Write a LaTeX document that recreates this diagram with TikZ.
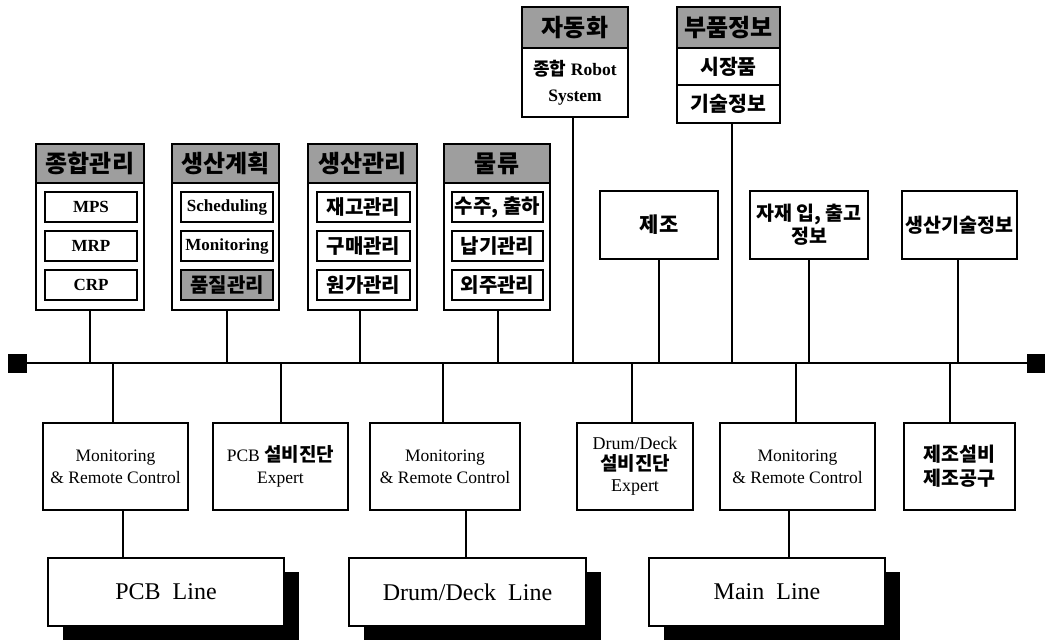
\documentclass[tikz,border=0pt]{standalone}
\usepackage{fontspec}
\setmainfont{Liberation Serif}
\newfontfamily\kr{Noto Sans CJK KR}
\newcommand\K[1]{{\kr\bfseries\fontsize{19}{21}\selectfont #1}}
\usetikzlibrary{shadows}
\begin{document}
\begin{tikzpicture}[x=1pt,y=-1pt,
  every node/.style={inner sep=0pt, outer sep=0pt, align=center},
  bx/.style={draw, line width=1.8pt, fill=white},
  hdr/.style={draw, line width=1.8pt, fill=black!38, font=\fontsize{24}{26}\selectfont\kr\bfseries},
  ibx/.style={draw, line width=1.6pt, fill=white, font=\fontsize{17}{19}\selectfont\bfseries},
  ikr/.style={ibx, font=\fontsize{20}{22}\selectfont\kr\bfseries},
  rbx/.style={bx, minimum height=68pt, font=\fontsize{19.5}{23}\selectfont\kr\bfseries},
  lbx/.style={bx, minimum height=87pt, font=\fontsize{17.5}{22}\selectfont},
  linebx/.style={bx, minimum width=236pt, minimum height=68pt, font=\fontsize{24}{26}\selectfont,
     drop shadow={shadow xshift=15pt, shadow yshift=-14pt, fill=black, opacity=1}},
  con/.style={line width=1.8pt},
  sq/.style={fill=black, minimum width=19pt, minimum height=19pt}
]
\useasboundingbox (0,0) rectangle (1045,642);

% bus
\node[sq] (lsq) at (17.5,363) {};
\node[sq] (rsq) at (1036,363) {};
\draw[con] (lsq.east) -- (rsq.west);
\coordinate (bus) at (0,363);

% group 1
\node[bx, minimum width=108pt, minimum height=127pt] (g1) at (90,246.5) {};
\node[hdr, minimum width=108pt, minimum height=39pt] (h1) at (90,163.5) {종합관리};
\node[ibx, minimum width=92pt, minimum height=30pt] (mps) at (91,207) {MPS};
\node[ibx, minimum width=92pt, minimum height=30pt] (mrp) at (91,246) {MRP};
\node[ibx, minimum width=92pt, minimum height=30pt] (crp) at (91,285) {CRP};

% group 2
\node[bx, minimum width=107pt, minimum height=127pt] (g2) at (225.5,246.5) {};
\node[hdr, minimum width=107pt, minimum height=39pt] (h2) at (225.5,163.5) {생산계획};
\node[ibx, minimum width=92pt, minimum height=30pt] (sch) at (227,207) {Scheduling};
\node[ibx, minimum width=92pt, minimum height=30pt] (mon) at (227,246) {Monitoring};
\node[ikr, fill=black!38, minimum width=92pt, minimum height=30pt] (qm) at (227,285) {품질관리};

% group 3
\node[bx, minimum width=109pt, minimum height=127pt] (g3) at (362.5,246.5) {};
\node[hdr, minimum width=109pt, minimum height=39pt] (h3) at (362.5,163.5) {생산관리};
\node[ikr, minimum width=93pt, minimum height=30pt] (inv) at (363.5,207) {재고관리};
\node[ikr, minimum width=93pt, minimum height=30pt] (pur) at (363.5,246) {구매관리};
\node[ikr, minimum width=93pt, minimum height=30pt] (cost) at (363.5,285) {원가관리};

% group 4
\node[bx, minimum width=106pt, minimum height=127pt] (g4) at (497,246.5) {};
\node[hdr, minimum width=106pt, minimum height=39pt] (h4) at (497,163.5) {물류};
\node[ikr, minimum width=91pt, minimum height=30pt] (ord) at (497.5,207) {수주, 출하};
\node[ikr, minimum width=91pt, minimum height=30pt] (due) at (497.5,246) {납기관리};
\node[ikr, minimum width=91pt, minimum height=30pt] (out) at (497.5,285) {외주관리};

% automation
\node[bx, minimum width=106pt, minimum height=69pt, font=\fontsize{17.5}{26}\selectfont\bfseries] (g5) at (575,82.5) {{\kr\fontsize{18}{21}\selectfont 종합} Robot\\System};
\node[hdr, minimum width=106pt, minimum height=41pt] (h5) at (575,27.5) {자동화};

% parts info
\node[hdr, minimum width=103pt, minimum height=41pt] (h6) at (728.5,27.5) {부품정보};
\node[bx, minimum width=103pt, minimum height=37pt, font=\fontsize{20.5}{22}\selectfont\kr\bfseries] (mkt) at (728.5,66.5) {시장품};
\node[bx, minimum width=103pt, minimum height=38pt, font=\fontsize{20.5}{22}\selectfont\kr\bfseries] (tech) at (728.5,104) {기술정보};

% right boxes
\node[rbx, minimum width=118pt, font=\fontsize{21}{23}\selectfont\kr\bfseries] (mfg) at (659,225) {제조};
\node[rbx, minimum width=118pt] (mat) at (809,225) {자재 입, 출고\\정보};
\node[rbx, minimum width=115pt] (ptech) at (959.5,225) {생산기술정보};

% lower boxes
\node[lbx, minimum width=145pt] (b1) at (115.5,466.5) {Monitoring\\\& Remote Control};
\node[lbx, minimum width=135pt] (b2) at (280.5,466.5) {PCB \K{설비진단}\\Expert};
\node[lbx, minimum width=150pt] (b3) at (445,466.5) {Monitoring\\\& Remote Control};
\node[lbx, minimum width=116pt, font=\fontsize{18}{21}\selectfont] (b4) at (635,466.5) {Drum/Deck\\\K{설비진단}\\Expert};
\node[lbx, minimum width=155pt] (b5) at (797.5,466.5) {Monitoring\\\& Remote Control};
\node[lbx, minimum width=111pt, font=\fontsize{19.5}{24}\selectfont\kr\bfseries] (b6) at (959.5,466.5) {제조설비\\제조공구};

% lines
\node[linebx] (l1) at (166,592) {PCB\ \ Line};
\node[linebx, minimum width=237pt] (l2) at (467.5,592) {Drum/Deck\ \ Line};
\node[linebx] (l3) at (767,592) {Main\ \ Line};

% connectors to bus (top)
\draw[con] (g1.south) -- (g1.south |- bus);
\draw[con] ([xshift=1.5pt]g2.south) -- ([xshift=1.5pt]g2.south |- bus);
\draw[con] ([xshift=-2.5pt]g3.south) -- ([xshift=-2.5pt]g3.south |- bus);
\draw[con] ([xshift=1pt]g4.south) -- ([xshift=1pt]g4.south |- bus);
\draw[con] ([xshift=-2pt]g5.south) -- ([xshift=-2pt]g5.south |- bus);
\draw[con] ([xshift=3.5pt]tech.south) -- ([xshift=3.5pt]tech.south |- bus);
\draw[con] (mfg.south) -- (mfg.south |- bus);
\draw[con] (mat.south) -- (mat.south |- bus);
\draw[con] ([xshift=-1.5pt]ptech.south) -- ([xshift=-1.5pt]ptech.south |- bus);

% connectors to bus (bottom)
\draw[con] ([xshift=-2.5pt]b1.north) -- ([xshift=-2.5pt]b1.north |- bus);
\draw[con] ([xshift=0.5pt]b2.north) -- ([xshift=0.5pt]b2.north |- bus);
\draw[con] ([xshift=-2pt]b3.north) -- ([xshift=-2pt]b3.north |- bus);
\draw[con] ([xshift=-3pt]b4.north) -- ([xshift=-3pt]b4.north |- bus);
\draw[con] ([xshift=-1.5pt]b5.north) -- ([xshift=-1.5pt]b5.north |- bus);
\draw[con] ([xshift=-9.5pt]b6.north) -- ([xshift=-9.5pt]b6.north |- bus);

% connectors to lines
\draw[con] ([xshift=7.5pt]b1.south) -- ([xshift=7.5pt]b1.south |- l1.north);
\draw[con] ([xshift=-1.5pt]b3.south -| l2.north) -- ([xshift=-1.5pt]l2.north);
\draw[con] ([xshift=-8.5pt]b5.south) -- ([xshift=-8.5pt]b5.south |- l3.north);
\end{tikzpicture}
\end{document}
